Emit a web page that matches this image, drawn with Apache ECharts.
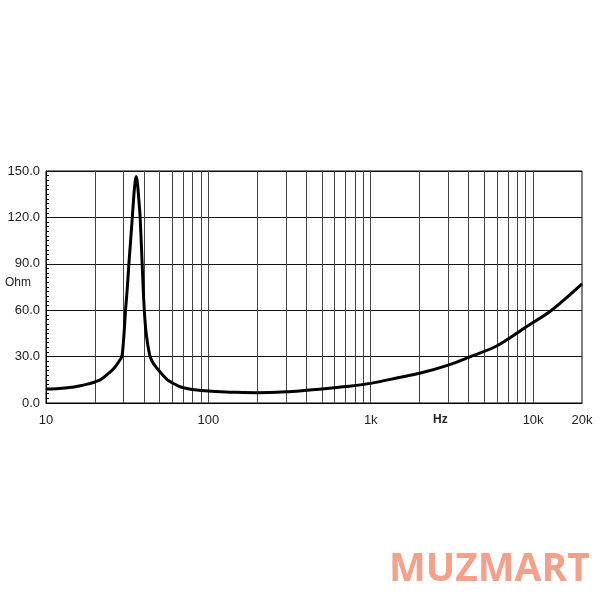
<!DOCTYPE html>
<html>
<head>
<meta charset="utf-8">
<script src="https://cdn.jsdelivr.net/npm/echarts@6/dist/echarts.min.js"></script>
<style>html,body{margin:0;padding:0;background:#fff;}#c{width:600px;height:600px;}</style>
</head>
<body>
<div id="c"></div>
<script>
// Frequency (Hz) and impedance (Ohm)
var freqs = [10, 12, 14, 16, 18, 20, 22, 24.8, 26.5, 28, 29.3, 30.1, 30.9, 31.7, 32.4, 33.2, 34.0, 34.8, 35.4, 35.9, 36.5, 37.2, 38.0, 39.1, 40.3, 41.5, 43.5, 45, 47, 50, 53, 56, 60, 67, 75, 85, 100, 120, 150, 200, 300, 400, 500, 700, 1000, 1500, 2000, 3000, 4000, 6000, 9000, 13000, 20000];
var ohms  = [9.0, 9.4, 10.0, 11.0, 12.2, 13.6, 15.5, 20, 23, 26.5, 30, 42, 60, 75, 90, 105, 120, 135, 143, 146.5, 143, 133, 120, 90, 60, 44, 31, 27, 24, 20.5, 17.5, 15, 13, 10.5, 9.2, 8.4, 7.8, 7.3, 6.9, 6.7, 7.3, 8.2, 9.0, 10.6, 12.7, 16.5, 19.2, 24.5, 29.5, 37, 49, 60, 77];
// Vertical grid line frequencies
var gridFreqs = [20, 30, 40, 50, 60, 70, 80, 90, 100, 200, 300, 400, 500, 600, 700, 800, 900, 1000, 2000, 3000, 4000, 5000, 6000, 7000, 8000, 9000, 10000];
// Axis settings
var yMin = 0, yMax = 150, yStep = 30;
var xMin = 10, xMax = 20000;
var xLabelMap = {10: '10', 100: '100', 1000: '1k', 10000: '10k', 20000: '20k'};

var data = freqs.map(function (f, i) { return [f, ohms[i]]; });

var chart = echarts.init(document.getElementById('c'));
chart.setOption({
  animation: false,
  backgroundColor: '#fff',
  grid: { left: 46, right: 18, top: 171, bottom: 197, show: true, borderColor: '#000', borderWidth: 1, backgroundColor: 'transparent', containLabel: false, outerBoundsMode: 'none' },
  xAxis: {
    type: 'log', logBase: 10, min: xMin, max: xMax,
    axisLine: { show: true, lineStyle: { color: '#000', width: 1 } },
    axisTick: { show: false },
    splitLine: { show: false },
    axisLabel: {
      color: '#222', fontFamily: 'Liberation Sans, Arial, sans-serif', fontSize: 13, margin: 11,
      showMinLabel: true, showMaxLabel: true,
      formatter: function (v) {
        var r = Math.round(v);
        if (r >= 15000) return '20k';
        return xLabelMap[r] !== undefined ? xLabelMap[r] : '';
      }
    }
  },
  yAxis: {
    type: 'value', min: yMin, max: yMax, interval: yStep,
    axisLine: { show: true, lineStyle: { color: '#000', width: 1 } },
    axisTick: { show: true, inside: true, length: 3, lineStyle: { color: '#000' } },
    minorTick: { show: true, splitNumber: 10, length: 3, lineStyle: { color: '#000' } },
    splitLine: { show: true, lineStyle: { color: '#111', width: 1 } },
    axisLabel: {
      color: '#222', fontFamily: 'Liberation Sans, Arial, sans-serif', fontSize: 13, margin: 6,
      formatter: function (v) { return v.toFixed(1); }
    }
  },
  series: [
    {
      type: 'line', data: [], z: 1, silent: true,
      markLine: {
        silent: true, symbol: ['none', 'none'], label: { show: false },
        lineStyle: { color: '#444', width: 1, type: 'solid' },
        data: gridFreqs.map(function (f) { return { xAxis: f }; })
      }
    },
    {
      type: 'line', data: data, z: 5, showSymbol: false, symbol: 'none',
      smooth: 0.3,
      lineStyle: { color: '#000', width: 3 }
    }
  ],
  graphic: [
    { type: 'text', left: 5, top: 277, style: { text: 'Ohm', fill: '#222', font: '12px "Liberation Sans", Arial, sans-serif' } },
    { type: 'text', left: 433, top: 414, style: { text: 'Hz', fill: '#222', font: 'bold 12px "Liberation Sans", Arial, sans-serif' } },
    { type: 'text', left: 389, top: 550, style: { text: 'MUZMART', fill: '#F4A08A', font: 'bold 39px "Open Sans", sans-serif' } }
  ]
});
</script>
</body>
</html>
